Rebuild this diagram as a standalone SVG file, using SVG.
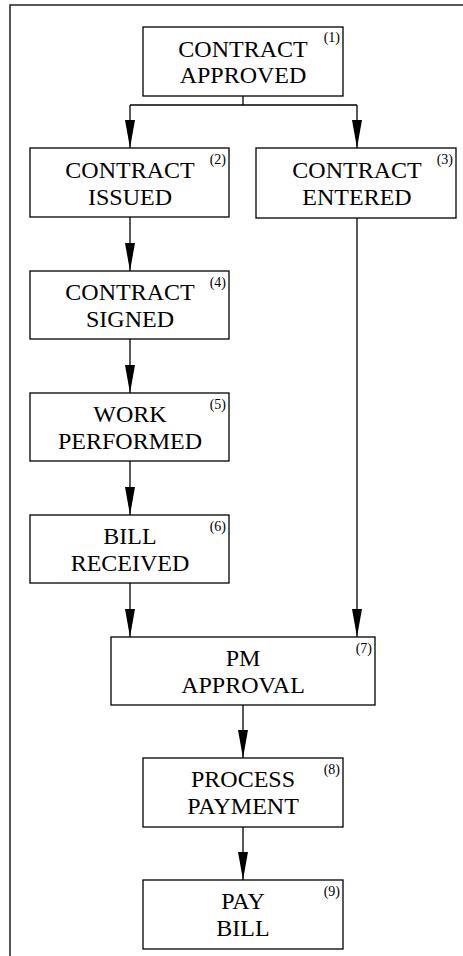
<svg xmlns="http://www.w3.org/2000/svg" width="463" height="956" viewBox="0 0 463 956">
  <style>
    .box { fill: #ffffff; stroke: #000000; stroke-width: 1.3; }
    .lbl { font-family: "Liberation Serif", "Times New Roman", serif; font-size: 24px; fill: #000000; text-anchor: middle; }
    .num { font-family: "Liberation Serif", "Times New Roman", serif; font-size: 14px; fill: #000000; text-anchor: end; }
    .wire { fill: none; stroke: #000000; stroke-width: 1.3; }
    .frame { fill: none; stroke: #222222; stroke-width: 1.5; }
  </style>
  <defs>
    <marker id="arrow" viewBox="0 0 28 10" refX="28" refY="5" markerWidth="28" markerHeight="10" markerUnits="userSpaceOnUse" orient="auto">
      <path d="M0,0 L28,5 L0,10 Z" fill="#000000"/>
    </marker>
  </defs>

  <rect width="463" height="956" fill="#ffffff"/>

  <!-- page frame: top and left edges only -->
  <path class="frame" d="M10,956 L10,5 L463,5"/>

  <g id="connectors">
    <path class="wire" d="M243,96 L243,105"/>
    <path class="wire" d="M130,105 L357,105"/>
    <path class="wire" d="M130,105 L130,148" marker-end="url(#arrow)"/>
    <path class="wire" d="M357,105 L357,148" marker-end="url(#arrow)"/>
    <path class="wire" d="M130,217 L130,271" marker-end="url(#arrow)"/>
    <path class="wire" d="M130,339 L130,393" marker-end="url(#arrow)"/>
    <path class="wire" d="M130,461 L130,515" marker-end="url(#arrow)"/>
    <path class="wire" d="M130,583 L130,637" marker-end="url(#arrow)"/>
    <path class="wire" d="M357,218 L357,637" marker-end="url(#arrow)"/>
    <path class="wire" d="M243,705 L243,758" marker-end="url(#arrow)"/>
    <path class="wire" d="M243,827 L243,880" marker-end="url(#arrow)"/>
  </g>

  <g id="node1">
    <rect class="box" x="143" y="27" width="200" height="69"/>
    <text class="lbl" x="243" y="57">CONTRACT</text>
    <text class="lbl" x="243" y="83">APPROVED</text>
    <text class="num" x="340" y="42">(1)</text>
  </g>

  <g id="node2">
    <rect class="box" x="30" y="148" width="199" height="69"/>
    <text class="lbl" x="130" y="178">CONTRACT</text>
    <text class="lbl" x="130" y="205">ISSUED</text>
    <text class="num" x="226" y="164">(2)</text>
  </g>

  <g id="node3">
    <rect class="box" x="256" y="148" width="200" height="70"/>
    <text class="lbl" x="357" y="178">CONTRACT</text>
    <text class="lbl" x="357" y="205">ENTERED</text>
    <text class="num" x="453" y="164">(3)</text>
  </g>

  <g id="node4">
    <rect class="box" x="30" y="271" width="199" height="68"/>
    <text class="lbl" x="130" y="300">CONTRACT</text>
    <text class="lbl" x="130" y="327">SIGNED</text>
    <text class="num" x="226" y="287">(4)</text>
  </g>

  <g id="node5">
    <rect class="box" x="30" y="393" width="199" height="68"/>
    <text class="lbl" x="130" y="422">WORK</text>
    <text class="lbl" x="130" y="449">PERFORMED</text>
    <text class="num" x="226" y="409">(5)</text>
  </g>

  <g id="node6">
    <rect class="box" x="30" y="515" width="199" height="68"/>
    <text class="lbl" x="130" y="544">BILL</text>
    <text class="lbl" x="130" y="571">RECEIVED</text>
    <text class="num" x="226" y="531">(6)</text>
  </g>

  <g id="node7">
    <rect class="box" x="111" y="637" width="264" height="68"/>
    <text class="lbl" x="243" y="666">PM</text>
    <text class="lbl" x="243" y="693">APPROVAL</text>
    <text class="num" x="372" y="653">(7)</text>
  </g>

  <g id="node8">
    <rect class="box" x="143" y="758" width="200" height="69"/>
    <text class="lbl" x="243" y="787">PROCESS</text>
    <text class="lbl" x="243" y="814">PAYMENT</text>
    <text class="num" x="340" y="774">(8)</text>
  </g>

  <g id="node9">
    <rect class="box" x="143" y="880" width="200" height="69"/>
    <text class="lbl" x="243" y="909">PAY</text>
    <text class="lbl" x="243" y="936">BILL</text>
    <text class="num" x="340" y="896">(9)</text>
  </g>
</svg>
